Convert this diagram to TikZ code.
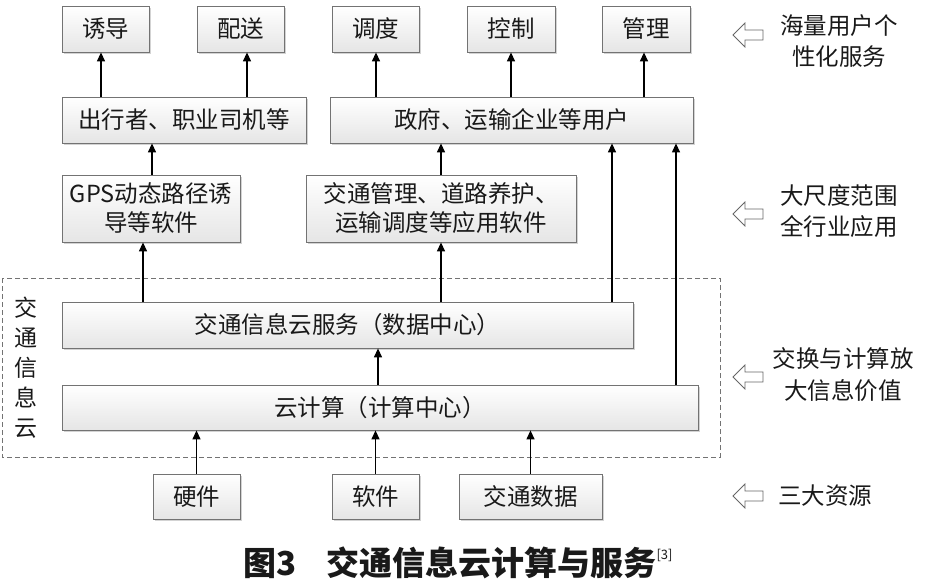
\documentclass[tikz,border=0pt]{standalone}
\usepackage{fontspec}
\setmainfont{Noto Sans CJK SC}
\usetikzlibrary{arrows.meta,shadows}
\begin{document}
\begin{tikzpicture}[x=1pt,y=-1pt,
  box/.style={draw=black!55, line width=0.8pt, top color=white, bottom color=black!10,
    drop shadow={shadow xshift=1.5pt,shadow yshift=-1.5pt,opacity=0.35,fill=black!50},
    inner sep=0pt, align=center, font=\fontsize{23.5}{29}\selectfont, text=black!90},
  arr/.style={line width=1.3pt, -{Triangle[length=9pt,width=8pt]}},
  lbl/.style={align=center, font=\fontsize{23.5}{31}\selectfont, text=black!90},
  harrow/.pic={\draw[black!60, line width=0.8pt, line join=miter] (-15,0) -- (-3,-12) -- (-3,-5) -- (15,-5) -- (15,5) -- (-3,5) -- (-3,12) -- cycle;}
]
\useasboundingbox (0,0) rectangle (928,584);
% dashed cloud frame
\draw[black!55, dash pattern=on 5pt off 3pt, line width=0.7pt] (2,278) rectangle (720,457);
% top row
\node[box, minimum width=87pt, minimum height=46pt] (t1) at (105.5,29) {诱导};
\node[box, minimum width=87pt, minimum height=46pt] (t2) at (240.5,29) {配送};
\node[box, minimum width=87pt, minimum height=46pt] (t3) at (375.5,29) {调度};
\node[box, minimum width=88pt, minimum height=46pt] (t4) at (511,29) {控制};
\node[box, minimum width=88pt, minimum height=46pt] (t5) at (646,29) {管理};
% users row
\node[box, minimum width=244pt, minimum height=46pt] (r2a) at (184,120) {出行者、职业司机等};
\node[box, minimum width=363pt, minimum height=46pt] (r2b) at (511.5,120) {政府、运输企业等用户};
% software row
\node[box, minimum width=178pt, minimum height=67pt] (gps) at (151,208.5) {GPS动态路径诱\\导等软件};
\node[box, minimum width=270pt, minimum height=67pt] (app) at (441,208.5) {交通管理、道路养护、\\运输调度等应用软件};
% cloud layers
\node[box, minimum width=571pt, minimum height=46pt] (svc) at (347.5,325) {交通信息云服务（数据中心）};
\node[box, minimum width=636pt, minimum height=45pt] (cc) at (380,407.5) {云计算（计算中心）};
% resources
\node[box, minimum width=87pt, minimum height=45pt] (hw) at (196.5,496.5) {硬件};
\node[box, minimum width=87pt, minimum height=45pt] (sw) at (375.5,496.5) {软件};
\node[box, minimum width=143pt, minimum height=45pt] (data) at (530.5,496.5) {交通数据};
% vertical label
\node[align=center, font=\fontsize{23}{30}\selectfont, text=black!90] (vl) at (26,368) {交\\通\\信\\息\\云};
% arrows
\draw[arr] (r2a.north -| 101,0) -- (t1.south -| 101,0);
\draw[arr] (r2a.north -| 247,0) -- (t2.south -| 247,0);
\draw[arr] (r2b.north -| 376,0) -- (t3.south -| 376,0);
\draw[arr] (r2b.north -| 511,0) -- (t4.south -| 511,0);
\draw[arr] (r2b.north -| 644,0) -- (t5.south -| 644,0);
\draw[arr] (gps.north -| 152,0) -- (r2a.south -| 152,0);
\draw[arr] (app.north -| 441,0) -- (r2b.south -| 441,0);
\draw[arr] (svc.north -| 143,0) -- (gps.south -| 143,0);
\draw[arr] (svc.north -| 441,0) -- (app.south -| 441,0);
\draw[arr] (svc.north -| 612,0) -- (r2b.south -| 612,0);
\draw[arr] (cc.north -| 676,0) -- (r2b.south -| 676,0);
\draw[arr] (cc.north -| 378,0) -- (svc.south -| 378,0);
\draw[arr] (hw.north) -- (cc.south -| hw.north);
\draw[arr] (sw.north) -- (cc.south -| sw.north);
\draw[arr] (data.north) -- (cc.south -| data.north);
% right-hand labels
\pic at (748,35) {harrow};
\pic at (748,214) {harrow};
\pic at (748,377) {harrow};
\pic at (748,496) {harrow};
\node[lbl] (l1) at (839,41) {海量用户个\\性化服务};
\node[lbl] (l2) at (839,211) {大尺度范围\\全行业应用};
\node[lbl, font=\fontsize{23.5}{32}\selectfont] (l3) at (843,375) {交换与计算放\\大信息价值};
\node[lbl] (l4) at (825,496) {三大资源};
% caption
\node[font=\fontsize{33}{33}\selectfont\bfseries, text=black!90] (cap) at (458,563) {图3\hspace{30pt}交通信息云计算与服务\raisebox{16pt}{\fontsize{13}{13}\selectfont\mdseries [3]}};
\end{tikzpicture}
\end{document}
